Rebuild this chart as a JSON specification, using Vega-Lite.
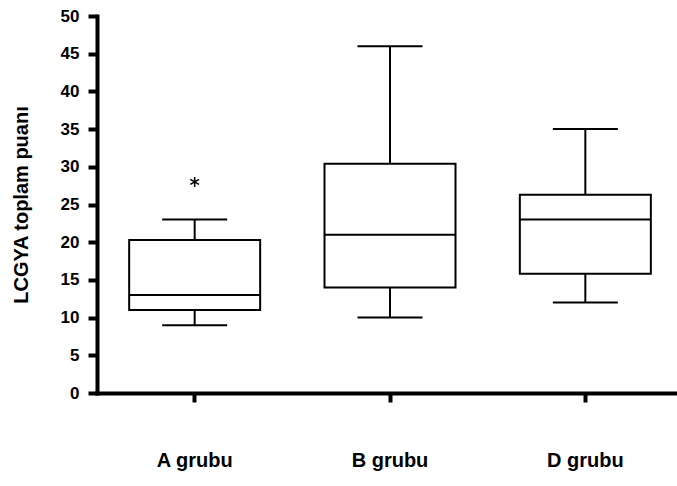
{
  "$schema": "https://vega.github.io/schema/vega-lite/v6.json",
  "autosize": {"type": "none"},
  "padding": {"left": 97, "top": 16, "right": 0, "bottom": 93},
  "width": 586,
  "height": 377,
  "background": "white",
  "config": {
    "view": {"stroke": null},
    "axis": {
      "grid": false,
      "domainColor": "black",
      "domainWidth": 4,
      "domainCap": "square",
      "tickColor": "black",
      "tickWidth": 4,
      "tickSize": 9,
      "labelFont": "Liberation Sans",
      "labelFontWeight": "bold",
      "labelColor": "black",
      "titleFont": "Liberation Sans",
      "titleFontWeight": "bold",
      "titleColor": "black"
    },
    "axisX": {"labelAngle": 0, "labelFontSize": 20, "labelPadding": 48, "domainWidth": 4, "tickWidth": 4},
    "axisY": {"labelFontSize": 17, "labelPadding": 9, "labelOverlap": false, "titleFontSize": 20, "titlePadding": 29, "domainWidth": 4, "tickWidth": 4}
  },
  "data": {
    "values": [
      {"group": "A grubu", "lo": 9, "q1": 11, "median": 13, "q3": 20.3, "hi": 23, "outlier": 28},
      {"group": "B grubu", "lo": 10, "q1": 14, "median": 21, "q3": 30.4, "hi": 46, "outlier": null},
      {"group": "D grubu", "lo": 12, "q1": 15.8, "median": 23, "q3": 26.3, "hi": 35, "outlier": null}
    ]
  },
  "encoding": {
    "x": {
      "field": "group",
      "type": "nominal",
      "sort": null,
      "scale": {"paddingInner": 0, "paddingOuter": 0},
      "axis": {"title": null, "domainWidth": 4, "tickWidth": 4}
    }
  },
  "layer": [
    {
      "mark": {"type": "rule", "color": "black", "strokeWidth": 2},
      "encoding": {
        "y": {
          "field": "lo",
          "type": "quantitative",
          "scale": {"domain": [0, 50], "nice": false},
          "axis": {"values": [0, 5, 10, 15, 20, 25, 30, 35, 40, 45, 50], "title": "LCGYA toplam puanı", "domainWidth": 4, "tickWidth": 4}
        },
        "y2": {"field": "hi"}
      }
    },
    {
      "mark": {"type": "bar", "size": 131, "fill": "white", "stroke": "black", "strokeWidth": 2},
      "encoding": {
        "y": {"field": "q1", "type": "quantitative", "axis": {"values": [0, 5, 10, 15, 20, 25, 30, 35, 40, 45, 50], "title": "LCGYA toplam puanı", "domainWidth": 4, "tickWidth": 4}},
        "y2": {"field": "q3"}
      }
    },
    {
      "mark": {"type": "tick", "size": 131, "thickness": 2, "color": "black", "opacity": 1},
      "encoding": {"y": {"field": "median", "type": "quantitative", "axis": {"values": [0, 5, 10, 15, 20, 25, 30, 35, 40, 45, 50], "title": "LCGYA toplam puanı", "domainWidth": 4, "tickWidth": 4}}}
    },
    {
      "mark": {"type": "tick", "size": 65, "thickness": 2, "color": "black", "opacity": 1},
      "encoding": {"y": {"field": "lo", "type": "quantitative", "axis": {"values": [0, 5, 10, 15, 20, 25, 30, 35, 40, 45, 50], "title": "LCGYA toplam puanı", "domainWidth": 4, "tickWidth": 4}}}
    },
    {
      "mark": {"type": "tick", "size": 65, "thickness": 2, "color": "black", "opacity": 1},
      "encoding": {"y": {"field": "hi", "type": "quantitative", "axis": {"values": [0, 5, 10, 15, 20, 25, 30, 35, 40, 45, 50], "title": "LCGYA toplam puanı", "domainWidth": 4, "tickWidth": 4}}}
    },
    {
      "mark": {
        "type": "point",
        "shape": "M0,-1L0,1M-0.87,-0.5L0.87,0.5M-0.87,0.5L0.87,-0.5",
        "filled": false,
        "stroke": "black",
        "strokeWidth": 1.6,
        "size": 100,
        "opacity": 1
      },
      "encoding": {"y": {"field": "outlier", "type": "quantitative", "axis": {"values": [0, 5, 10, 15, 20, 25, 30, 35, 40, 45, 50], "title": "LCGYA toplam puanı", "domainWidth": 4, "tickWidth": 4}}}
    }
  ]
}
